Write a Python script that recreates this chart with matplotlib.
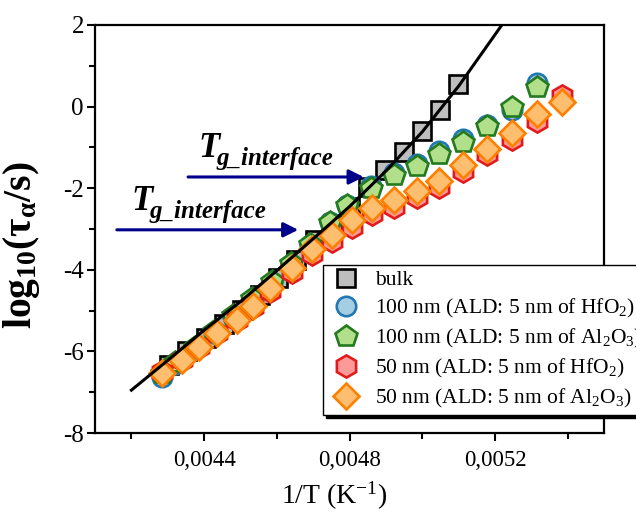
import numpy as np
import matplotlib
matplotlib.use("Agg")
import matplotlib.pyplot as plt
from matplotlib.ticker import MultipleLocator, FuncFormatter

plt.rcParams["font.family"] = ["Liberation Serif", "DejaVu Serif"]
plt.rcParams["mathtext.fontset"] = "custom"
plt.rcParams["mathtext.rm"] = "Liberation Serif"
plt.rcParams["mathtext.it"] = "Liberation Serif:italic"
plt.rcParams["mathtext.bf"] = "Liberation Serif:bold"

# bulk
x_bulk = [0.004304, 0.004354, 0.004404, 0.004454, 0.004504, 0.004554, 0.004604, 0.004654, 0.004704,
          0.004754, 0.004802, 0.004850, 0.004897, 0.004949, 0.004999, 0.005048, 0.005098]
y_bulk = [-6.33, -6.00, -5.66, -5.33, -4.99, -4.61, -4.19, -3.75, -3.27,
          -2.88, -2.45, -1.98, -1.55, -1.11, -0.60, -0.08, 0.55]

# 100 nm films
x_100 = [0.004284, 0.004321, 0.004374, 0.004427, 0.004480, 0.004533, 0.004586, 0.004639, 0.004692,
         0.004745, 0.004794, 0.004858, 0.004922, 0.004985, 0.005046, 0.005112, 0.005178, 0.005247, 0.005316]
y_100_hfo2 = [-6.62, -6.32, -5.95, -5.55, -5.16, -4.74, -4.32, -3.88, -3.40,
              -2.84, -2.40, -1.95, -1.62, -1.40, -1.10, -0.80, -0.45, -0.08, 0.58]
y_100_al2o3 = [-6.52, -6.26, -5.90, -5.50, -5.10, -4.70, -4.28, -3.84, -3.37,
               -2.84, -2.41, -2.00, -1.68, -1.46, -1.16, -0.87, -0.47, -0.01, 0.48]

# 50 nm films
x_50 = [0.004284, 0.004339, 0.004385, 0.004436, 0.004490, 0.004535, 0.004582, 0.004643, 0.004698, 0.004753,
        0.004808, 0.004863, 0.004922, 0.004985, 0.005046, 0.005112, 0.005178, 0.005247, 0.005316, 0.005385]
y_50_hfo2 = [-6.50, -6.20, -5.88, -5.55, -5.24, -4.92, -4.52, -4.05, -3.62, -3.30,
             -2.95, -2.63, -2.45, -2.22, -1.97, -1.57, -1.17, -0.80, -0.35, 0.25]
y_50_al2o3 = [-6.53, -6.22, -5.90, -5.55, -5.22, -4.88, -4.45, -3.95, -3.50, -3.15,
              -2.78, -2.49, -2.30, -2.07, -1.82, -1.43, -1.04, -0.65, -0.18, 0.12]

# VFT fit of the bulk, sampled
x_fit = [0.00420, 0.00430, 0.00440, 0.00450, 0.00460, 0.00470, 0.00480, 0.00490,
         0.00500, 0.00510, 0.00520, 0.005219]
y_fit = [-6.95, -6.22, -5.48, -4.78, -4.02, -3.24, -2.45, -1.58,
         -0.62, 0.50, 1.76, 2.00]

fig = plt.figure(figsize=(6.36, 5.13), dpi=100)
ax = fig.add_axes([0.1494, 0.1559, 0.8003, 0.7954])

mew = 1.9
ax.plot(x_bulk, y_bulk, "s", ms=12.5, mfc="#bebebe", mec="black", mew=mew, label="bulk", zorder=3)
ax.plot(x_100, y_100_hfo2, "o", ms=14, mfc="#a6cee3", mec="#1f78b4", mew=mew,
        label="100 nm (ALD: 5 nm of HfO$_2$)", zorder=3)
ax.plot(x_100, y_100_al2o3, "p", ms=16, mfc="#b2df8a", mec="#237a1f", mew=mew,
        label="100 nm (ALD: 5 nm of Al$_2$O$_3$)", zorder=3)
ax.plot(x_50, y_50_hfo2, "h", ms=16, mfc="#fb9a99", mec="#e31a1c", mew=mew,
        label="50 nm (ALD: 5 nm of HfO$_2$)", zorder=3)
ax.plot(x_50, y_50_al2o3, "D", ms=13, mfc="#fdbf6f", mec="#ff7f00", mew=mew,
        label="50 nm (ALD: 5 nm of Al$_2$O$_3$)", zorder=3)
ax.plot(x_fit, y_fit, "-", color="black", lw=2.2, zorder=4)

# T_g interface markers
arrow = dict(arrowstyle="-|>", color="#00008b", lw=2.2, mutation_scale=22, shrinkA=0, shrinkB=0)
for x0, x1, yy, xt, yt in [(0.004356, 0.004839, -1.725, 0.004385, -1.235),
                           (0.004160, 0.004659, -3.020, 0.004200, -2.530)]:
    ax.annotate("", xy=(x1, yy), xytext=(x0, yy), arrowprops=arrow, zorder=5)
    ax.text(xt, yt, "T", fontsize=25, style="italic", weight="bold", va="baseline", zorder=5)
    ax.annotate("g_interface", xy=(xt, yt), xytext=(13, -6), textcoords="offset points",
                fontsize=18, style="italic", weight="bold", va="baseline", zorder=5)

ax.set_xlim(0.0041, 0.0055)
ax.set_ylim(-8, 2)
ax.xaxis.set_major_locator(MultipleLocator(0.0004))
ax.xaxis.set_minor_locator(MultipleLocator(0.0002))
ax.yaxis.set_major_locator(MultipleLocator(2))
ax.yaxis.set_minor_locator(MultipleLocator(1))
ax.xaxis.set_major_formatter(FuncFormatter(lambda v, p: f"{v:.4f}".replace(".", ",")))
ax.yaxis.set_major_formatter(FuncFormatter(lambda v, p: f"{v:.0f}"))

ax.tick_params(which="both", direction="out", top=False, right=False, width=1.5)
ax.tick_params(which="major", length=6)
ax.tick_params(which="minor", length=4)
ax.tick_params(axis="x", labelsize=16.5, pad=6)
ax.tick_params(axis="y", labelsize=18, pad=2)
for s in ax.spines.values():
    s.set_linewidth(1.6)

ax.set_xlabel("1/T (K$^{-1}$)", fontsize=20)
ax.xaxis.set_label_coords(0.47, -0.115)
ax.set_ylabel(r"$\mathbf{log_{10}(\tau_{\alpha}/s)}$", fontsize=28.5)
ax.yaxis.set_label_coords(-0.104, 0.46)

leg = ax.legend(loc="upper left", bbox_to_anchor=(0.448, 0.412), fontsize=15.5, frameon=True,
                fancybox=False, shadow={"color": "black", "alpha": 1}, borderpad=0.25,
                labelspacing=0.32, handletextpad=0.55, handlelength=1.6, borderaxespad=0)
leg.get_frame().set_edgecolor("black")
leg.get_frame().set_linewidth(1.0)
leg.set_zorder(6)

fig.savefig("out.png", dpi=100)
